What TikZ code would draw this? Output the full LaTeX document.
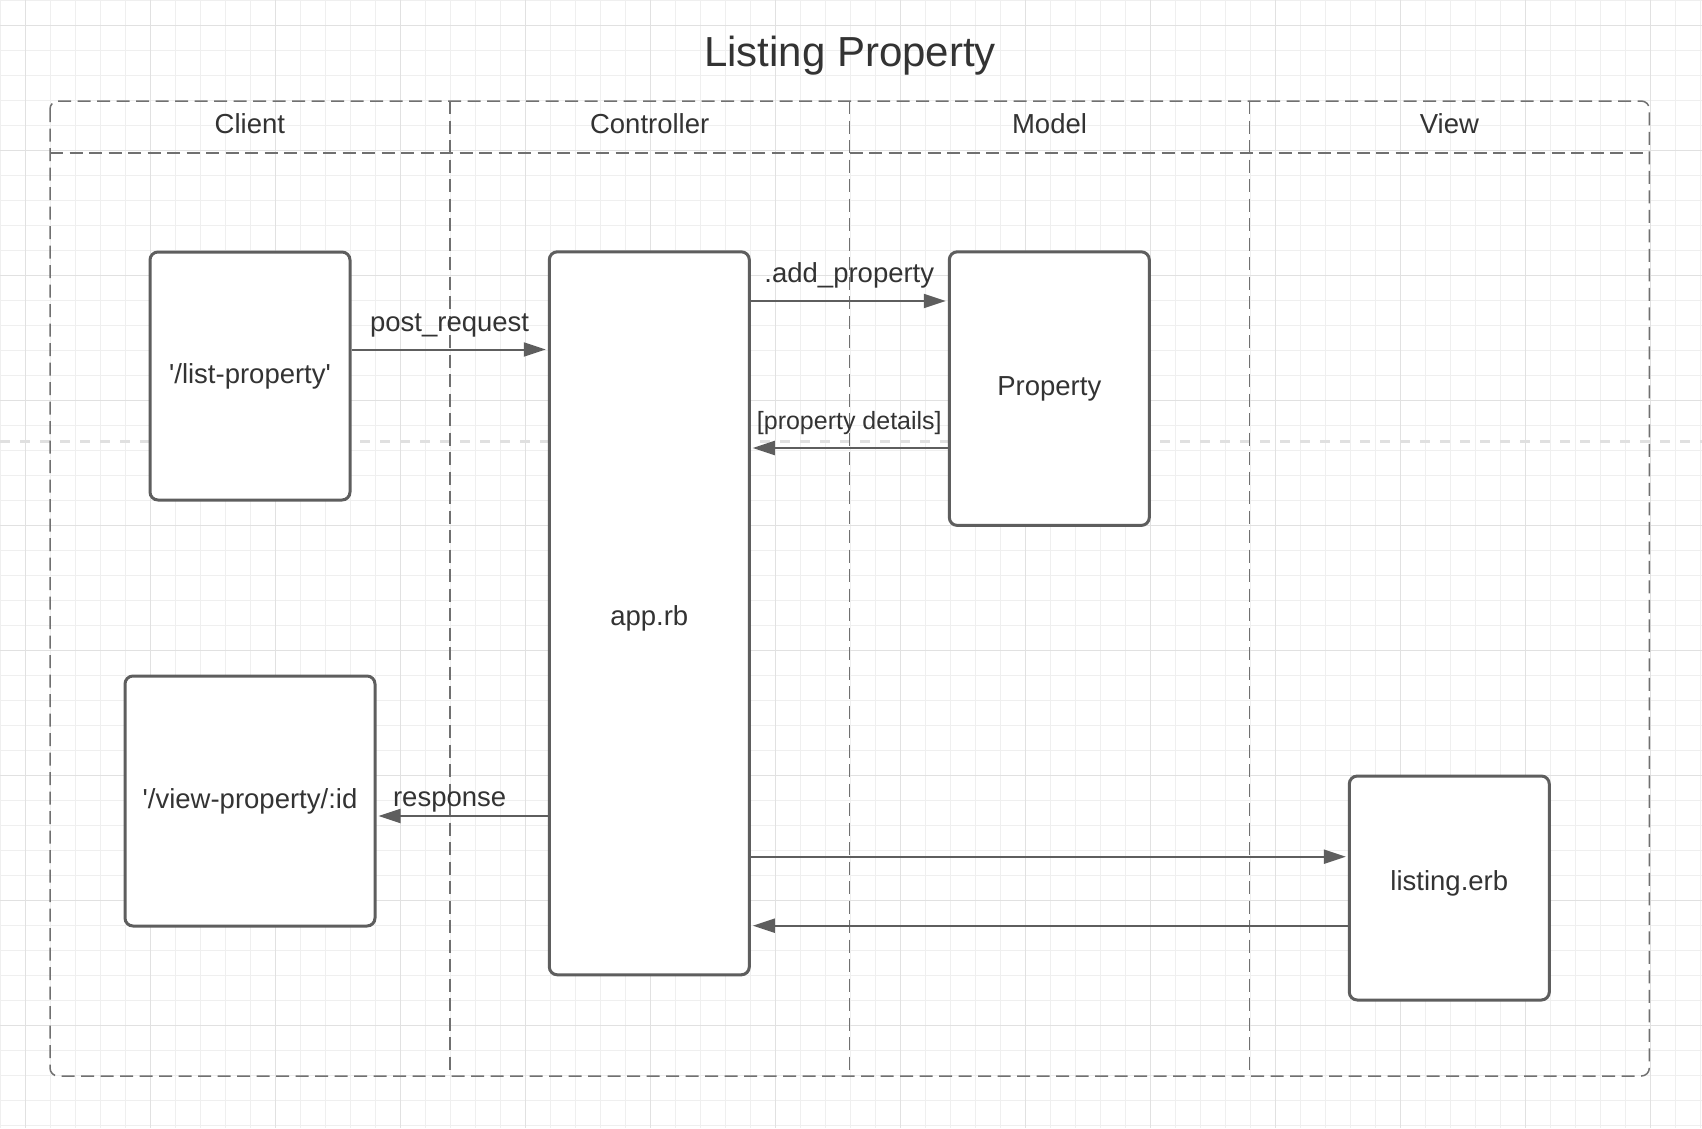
\documentclass[tikz,border=0pt]{standalone}
\usepackage{fontspec}
\setmainfont{Liberation Sans}[Ligatures=TeXOff]
\usetikzlibrary{arrows.meta}
\definecolor{gridminor}{HTML}{EFEFEF}
\definecolor{gridmajor}{HTML}{E1E1E1}
\definecolor{lanec}{HTML}{707070}
\definecolor{boxc}{HTML}{5E5E5E}
\definecolor{txt}{HTML}{333333}
\definecolor{sepc}{HTML}{E0E0E0}
\begin{document}
\begin{tikzpicture}[x=1pt,y=-1pt,
  box/.style={draw=boxc, line width=3pt, fill=white, rounded corners=8pt, inner sep=0pt,
    text=txt, font=\fontsize{27.5}{33}\selectfont, text height=20pt, text depth=5.8pt},
  arr/.style={draw=boxc, line width=2pt, -{Triangle[length=22pt,width=14pt]}, shorten >=2pt},
  lbl/.style={text=txt, font=\fontsize{27.5}{33}\selectfont, inner sep=0pt, anchor=base},
  lane/.style={draw=lanec, line width=1.5pt, dash pattern=on 13pt off 6.5pt}]
\useasboundingbox (0,0) rectangle (1702,1128);
\fill[white] (0,0) rectangle (1702,1128);
% grid
\foreach \i in {0,...,68} \draw[gridminor, line width=1pt] (25*\i,0) -- (25*\i,1128);
\foreach \j in {0,...,45} \draw[gridminor, line width=1pt] (0,25*\j) -- (1702,25*\j);
\foreach \i in {0,...,13} \draw[gridmajor, line width=1pt] (25+125*\i,0) -- (25+125*\i,1128);
\foreach \j in {0,...,8} \draw[gridmajor, line width=1pt] (0,25+125*\j) -- (1702,25+125*\j);
% light dashed separator
\draw[sepc, line width=3pt, dash pattern=on 10pt off 10pt] (0,441) -- (1702,441);
% swimlane frame
\draw[lane, rounded corners=8pt] (50,101) rectangle (1649.3,1076);
\draw[lane] (50,153) -- (1649.3,153);
\draw[lane] (449.8,101) -- (449.8,1076);
\draw[lane] (849.6,101) -- (849.6,1076);
\draw[lane] (1249.5,101) -- (1249.5,1076);
% title and lane headers
\node[lbl, font=\fontsize{42}{50}\selectfont] (title) at (850,66.7) {Listing Property};
\node[lbl] (hclient) at (249.9,133.5) {Client};
\node[lbl] (hcontroller) at (649.7,133.5) {Controller};
\node[lbl] (hmodel) at (1049.5,133.5) {Model};
\node[lbl] (hview) at (1449.4,133.5) {View};
% boxes
\node[box, minimum width=200pt, minimum height=248pt] (list) at (250,376) {'/list-property'};
\node[box, minimum width=250pt, minimum height=250pt] (view) at (250,801) {'/view-property/:id};
\node[box, minimum width=200pt, minimum height=723pt, text height=29.2pt] (app) at (649.3,613.3) {app.rb};
\node[box, minimum width=200pt, minimum height=273.6pt] (prop) at (1049.3,388.6) {Property};
\node[box, minimum width=200pt, minimum height=224pt, text height=11.2pt] (listing) at (1449.3,888) {listing.erb};
% arrow levels
\coordinate (yA) at (0,349.5);
\coordinate (yB) at (0,301);
\coordinate (yC) at (0,448);
\coordinate (yD) at (0,816);
\coordinate (yE) at (0,856.7);
\coordinate (yF) at (0,925.7);
% connectors
\draw[arr] (list.east |- yA) -- node[lbl, yshift=18pt] {post\_request} (app.west |- yA);
\draw[arr] (app.east |- yB) -- node[lbl, yshift=18.3pt] {.add\_property} (prop.west |- yB);
\draw[arr] (prop.west |- yC) -- node[lbl, yshift=18.7pt, font=\fontsize{25}{30}\selectfont] {[property details]} (app.east |- yC);
\draw[arr] (app.west |- yD) -- node[lbl, yshift=10pt, xshift=-12.5pt] {response} (view.east |- yD);
\draw[arr] (app.east |- yE) -- (listing.west |- yE);
\draw[arr] (listing.west |- yF) -- (app.east |- yF);
\end{tikzpicture}
\end{document}
